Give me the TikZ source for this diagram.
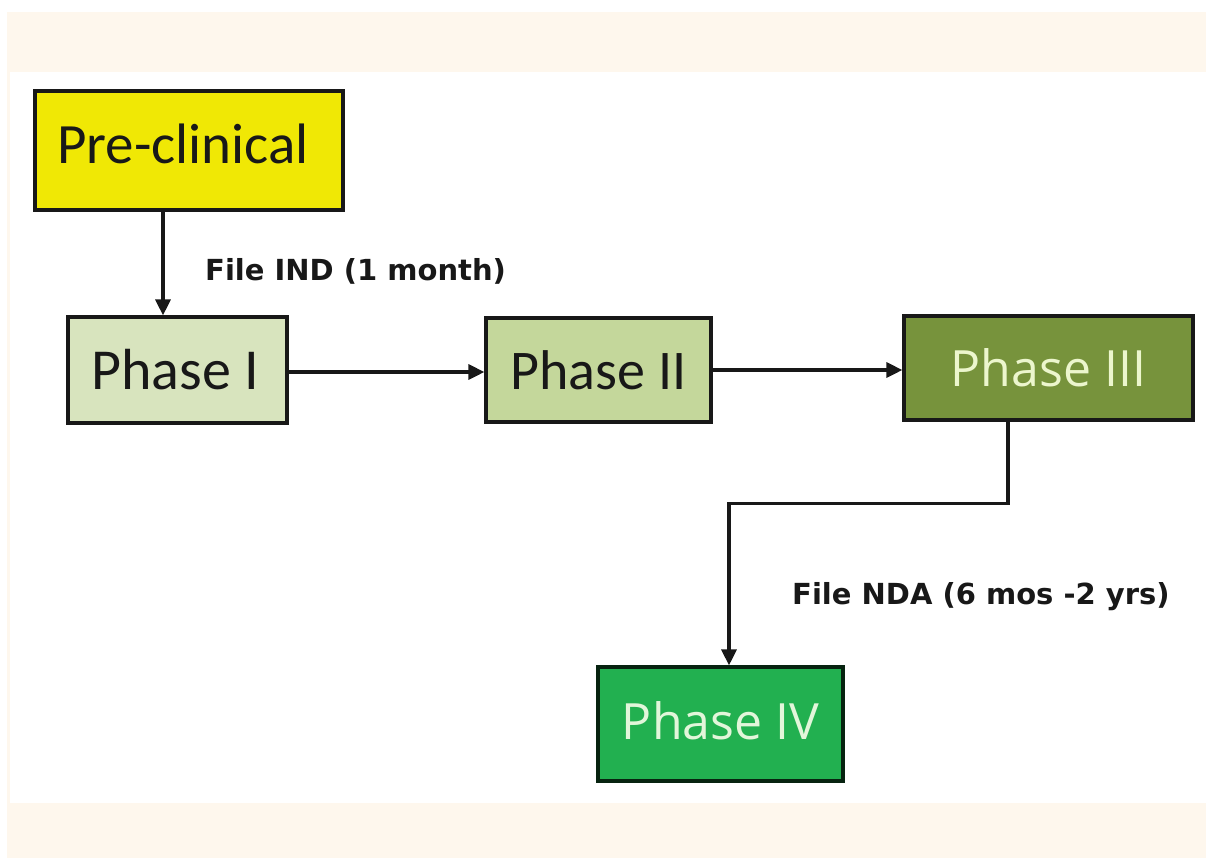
\documentclass[tikz,border=0pt]{standalone}
\usepackage{fontspec}
\setmainfont{Carlito}
\newfontfamily\opensans{Open Sans}
\newfontfamily\dejavubold{DejaVu Sans}[BoldFont={DejaVu Sans Bold}]
\usetikzlibrary{arrows.meta}
\definecolor{cream}{RGB}{254,247,237}
\definecolor{preyel}{RGB}{240,232,5}
\definecolor{pone}{RGB}{216,228,190}
\definecolor{ptwo}{RGB}{196,215,155}
\definecolor{pthree}{RGB}{119,147,60}
\definecolor{pfour}{RGB}{34,176,80}
\definecolor{txtlight}{RGB}{236,246,205}
\definecolor{txtfour}{RGB}{226,246,218}
\definecolor{edge}{RGB}{24,24,24}
\tikzset{
  box/.style={draw=edge, line width=3.2pt, rectangle, inner sep=0pt, align=center, text=edge},
  arr/.style={draw=edge, line width=3.2pt, -{Triangle[length=16pt,width=15pt]}},
  lbl/.style={font=\dejavubold\bfseries\fontsize{29}{34}\selectfont, text=edge, inner sep=0pt}
}
\begin{document}
\begin{tikzpicture}[x=1pt,y=-1pt]
\useasboundingbox (0,0) rectangle (1206,860);
\fill[white] (0,0) rectangle (1206,860);
\fill[cream] (7,12) rectangle (1206,858);
\fill[white] (10,72) rectangle (1206,803);
\node[box, fill=preyel, minimum width=308pt, minimum height=119pt,
      font=\fontsize{57}{64}\selectfont] (p0) at (189,150.5) {\hspace*{-12pt}\raisebox{13pt}{Pre-clinical}};
\node[box, fill=pone, minimum width=219pt, minimum height=106pt,
      font=\fontsize{58}{64}\selectfont] (p1) at (177.5,370) {\hspace*{-5pt}Phase I};
\node[box, fill=ptwo, minimum width=225pt, minimum height=104pt,
      font=\fontsize{56}{64}\selectfont] (p2) at (598.5,370) {Phase II};
\node[box, fill=pthree, minimum width=289pt, minimum height=104pt, text=txtlight,
      font=\opensans\fontsize{50}{58}\selectfont] (p3) at (1048.5,368) {\raisebox{2pt}{Phase III}};
\node[box, fill=pfour, draw=black!80!pfour, minimum width=245pt, minimum height=114pt, text=txtfour,
      font=\opensans\fontsize{50}{58}\selectfont] (p4) at (720.5,724) {\raisebox{8pt}{Phase IV}};
\draw[arr] ([xshift=-26pt]p0.south) -- ([xshift=-26pt]p0.south |- p1.north);
\draw[arr] ([yshift=-2pt]p1.east) -- ([yshift=-2pt]p1.east -| p2.west);
\draw[arr] (p2.east) -- (p2.east -| p3.west);
\draw[arr] ([xshift=-40.5pt]p3.south) |- ([xshift=8.5pt,yshift=162pt]p4.north) -- ([xshift=8.5pt]p4.north);
\node[lbl, anchor=west] (l1) at (205,271) {File IND (1 month)};
\node[lbl, anchor=west] (l2) at (792,597) {File NDA (6 mos -2 yrs)};
\end{tikzpicture}
\end{document}
